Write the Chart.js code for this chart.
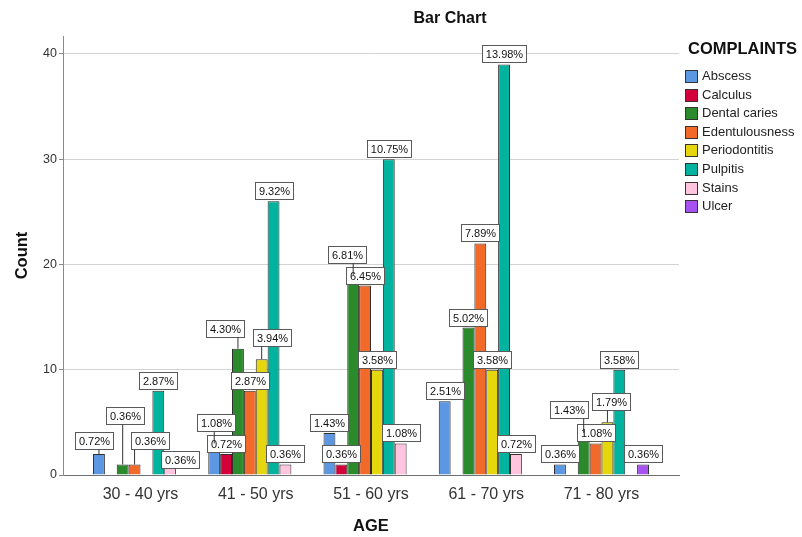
<!DOCTYPE html>
<html>
<head>
<meta charset="utf-8">
<script src="https://cdn.jsdelivr.net/npm/chart.js@4/dist/chart.umd.min.js"></script>
<style>
  html, body { margin: 0; padding: 0; background: #ffffff; }
  #wrap { position: relative; width: 802px; height: 537px; font-family: "Liberation Sans", Arial, sans-serif; color: #000; }
  #chart { position: absolute; left: 0; top: 0; }
  #title { position: absolute; left: 350px; width: 200px; top: 8px; line-height: 20px; text-align: center; font-weight: bold; font-size: 16px; color: #111; }
  #legendTitle { position: absolute; left: 688px; top: 38px; line-height: 20px; font-weight: bold; font-size: 16.5px; color: #111; }
  .lg { position: absolute; left: 685px; height: 18px; line-height: 18px; font-size: 13px; color: #222; white-space: nowrap; }
  .lg span.sw { position: absolute; left: 0; top: 3px; width: 11px; height: 11px; border: 1px solid #333; box-sizing: content-box; }
  .lg span.tx { position: absolute; left: 17px; top: 0; }
</style>
</head>
<body>
<div id="wrap">
  <canvas id="chart" width="802" height="537"></canvas>
  <div id="title">Bar Chart</div>
  <div id="legendTitle">COMPLAINTS</div>
  <div id="legend"></div>
</div>
<script>
// ---- data ----
const ageGroups = ['30 - 40 yrs', '41 - 50 yrs', '51 - 60 yrs', '61 - 70 yrs', '71 - 80 yrs'];
const complaints = ['Abscess', 'Calculus', 'Dental caries', 'Edentulousness', 'Periodontitis', 'Pulpitis', 'Stains', 'Ulcer'];
const abscess        = [2, 3, 4, 7, 1];
const calculus       = [0, 2, 1, 0, 0];
const dentalCaries   = [1, 12, 19, 14, 4];
const edentulousness = [1, 8, 18, 22, 3];
const periodontitis  = [0, 11, 10, 10, 5];
const pulpitis       = [8, 26, 30, 39, 10];
const stains         = [1, 1, 3, 2, 0];
const ulcer          = [0, 0, 0, 0, 1];
const yTicks = [0, 10, 20, 30, 40];
const totalN = 279; // percentages are of the grand total

// ---- styles ----
const seriesValues = [abscess, calculus, dentalCaries, edentulousness, periodontitis, pulpitis, stains, ulcer];
const seriesColors = ['#5B97E2', '#D4003A', '#2B8A2B', '#F26A2A', '#E5D60E', '#00B39E', '#FFC4DE', '#A651F0'];
// label displacement (px) for overlapping value boxes: "series-group": [dx, dy]
const labelNudges = {
  '0-0': [-5, -3], '2-0': [2, -38], '3-0': [15, -13], '6-0': [10, 6],
  '0-1': [2, -10], '2-1': [-13, -10], '4-1': [10, -11],
  '2-2': [-6, -10],
  '2-4': [-15, -13], '4-4': [4, -10]
};

// legend (HTML text)
const legendEl = document.getElementById('legend');
complaints.forEach((name, i) => {
  const d = document.createElement('div');
  d.className = 'lg';
  d.style.top = (67 + 18.6 * i) + 'px';
  d.innerHTML = '<span class="sw" style="background:' + seriesColors[i] + '"></span><span class="tx">' + name + '</span>';
  legendEl.appendChild(d);
});

const FONT = '"Liberation Sans", Arial, sans-serif';

const pctLabelPlugin = {
  id: 'pctLabels',
  afterDatasetsDraw(chart) {
    const ctx = chart.ctx;
    ctx.save();
    ctx.font = '11px ' + FONT;
    const boxes = [], leaders = [];
    chart.data.datasets.forEach((ds, si) => {
      const meta = chart.getDatasetMeta(si);
      meta.data.forEach((el, gi) => {
        const v = ds.data[gi].y;
        if (!v) return;
        const text = (v / totalN * 100).toFixed(2) + '%';
        const w = Math.round(ctx.measureText(text).width) + 7;
        const h = 17;
        const n = labelNudges[si + '-' + gi] || [0, 0];
        const cx = el.x + n[0];
        const bottom = el.y - 2 + n[1];
        const left = Math.round(cx - w / 2) + 0.5;
        const top = Math.round(bottom - h) + 0.5;
        boxes.push({ text, left, top, w, h });
        if ((n[0] !== 0 || n[1] !== 0) && el.y > top + h + 1) {
          const sx = Math.min(Math.max(el.x, left + 2), left + w - 2);
          leaders.push([sx, top + h, el.x, el.y]);
        }
      });
    });
    boxes.forEach(b => {
      ctx.fillStyle = '#ffffff';
      ctx.fillRect(b.left, b.top, b.w, b.h);
      ctx.strokeStyle = '#5a5a5a';
      ctx.lineWidth = 1;
      ctx.strokeRect(b.left, b.top, b.w, b.h);
      ctx.fillStyle = '#111';
      ctx.textAlign = 'center';
      ctx.textBaseline = 'middle';
      ctx.fillText(b.text, b.left + b.w / 2, b.top + b.h / 2 + 0.5);
    });
    ctx.strokeStyle = '#333';
    ctx.lineWidth = 1;
    leaders.forEach(l => {
      ctx.beginPath();
      ctx.moveTo(l[0], l[1]);
      ctx.lineTo(l[2], l[3]);
      ctx.stroke();
    });
    ctx.restore();
  }
};

const datasets = complaints.map((name, i) => ({
  label: name,
  data: seriesValues[i].map((v, g) => ({ x: g + 1, y: v === 0 ? null : v })),
  backgroundColor: seriesColors[i],
  borderColor: '#2e2e2e',
  borderWidth: 1,
  categoryPercentage: 0.824,
  barPercentage: 1.0
}));

new Chart(document.getElementById('chart'), {
  type: 'bar',
  data: { datasets },
  plugins: [pctLabelPlugin],
  options: {
    responsive: false,
    animation: false,
    devicePixelRatio: 1,
    layout: { padding: { top: 36, right: 123, left: 0, bottom: 0 } },
    plugins: { legend: { display: false }, tooltip: { enabled: false }, title: { display: false } },
    scales: {
      x: {
        type: 'linear',
        min: 0.3275,
        max: 5.6725,
        offset: false,
        grid: { display: false, drawTicks: false },
        border: { display: true, color: '#707070', width: 1 },
        afterBuildTicks: s => { s.ticks = ageGroups.map((_, i) => ({ value: i + 1 })); },
        afterFit: s => { s.height = 62; },
        ticks: {
          autoSkip: false, maxRotation: 0, padding: 10,
          color: '#333', font: { family: FONT, size: 16 },
          callback: v => ageGroups[v - 1]
        },
        title: { display: true, text: 'AGE', color: '#111', font: { family: FONT, size: 16.5, weight: 'bold' }, padding: { top: 0, bottom: 1 } }
      },
      y: {
        min: 0,
        max: 41.7,
        afterBuildTicks: s => { s.ticks = yTicks.map(v => ({ value: v })); },
        afterFit: s => { s.width = 63; },
        grid: { color: '#d3d3d3', lineWidth: 1, drawTicks: true, tickLength: 4, tickColor: '#8a8a8a' },
        border: { display: true, color: '#8a8a8a', width: 1 },
        ticks: { color: '#333', font: { family: FONT, size: 12.5 }, padding: 2, includeBounds: false },
        title: { display: true, text: 'Count', color: '#111', font: { family: FONT, size: 16.5, weight: 'bold' }, padding: { top: 13, bottom: 0 } }
      }
    }
  }
});
</script>
</body>
</html>
